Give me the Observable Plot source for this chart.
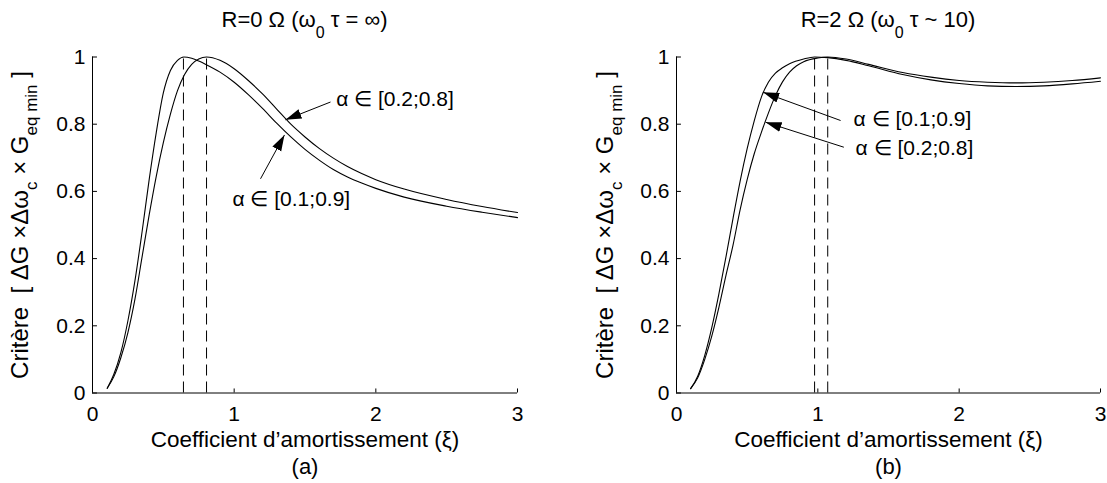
<!DOCTYPE html>
<html lang="fr">
<head>
<meta charset="utf-8">
<title>Critère en fonction du coefficient d'amortissement</title>
<script src="https://cdn.jsdelivr.net/npm/d3@7"></script>
<script src="https://cdn.jsdelivr.net/npm/@observablehq/plot@0.6"></script>
<style>
  html, body { margin: 0; padding: 0; background: #fff; }
  body { font-family: "Liberation Sans", Arial, Helvetica, sans-serif; color: #000; }
  #figure { position: relative; width: 1107px; height: 483px; overflow: hidden; background: #fff; }
  .panel { position: absolute; top: 0; height: 483px; }
  .panel-title { position: absolute; top: 0; height: 45px; box-sizing: border-box; padding-top: 9px;
                 font-size: 22px; line-height: 22px; white-space: pre; text-align: center; }
  .panel-title .sub { font-size: 16px; position: relative; top: 11px; }
  .panel svg { position: absolute; top: 45px; left: 0; }
</style>
</head>
<body>
<div id="figure"></div>
<script>
const FONT = '"Liberation Sans", Arial, Helvetica, sans-serif';

// Shared axes
const xTicks = [0, 1, 2, 3];
const yTicks = [0, 0.2, 0.4, 0.6, 0.8, 1];
const xLabel = "Coefficient d’amortissement (ξ)";

// (a) R = 0 Ω — α ∈ [0.1;0.9]
const xiA1 = [0.104, 0.15, 0.2, 0.25, 0.3, 0.35, 0.4, 0.45, 0.5, 0.55, 0.6, 0.645, 0.7, 0.75, 0.8, 0.9, 1.0, 1.1, 1.2, 1.3, 1.4, 1.5, 1.6, 1.7, 1.8, 1.9, 2.0, 2.2, 2.5, 2.75, 3.0];
const critA1 = [0.014, 0.055, 0.12, 0.215, 0.335, 0.48, 0.635, 0.775, 0.893, 0.96, 0.99, 1.0, 0.996, 0.988, 0.978, 0.955, 0.925, 0.888, 0.847, 0.803, 0.762, 0.725, 0.693, 0.665, 0.643, 0.625, 0.609, 0.583, 0.556, 0.538, 0.522];
// (a) R = 0 Ω — α ∈ [0.2;0.8]
const xiA2 = [0.104, 0.15, 0.2, 0.25, 0.3, 0.35, 0.4, 0.45, 0.5, 0.55, 0.6, 0.65, 0.7, 0.75, 0.805, 0.9, 1.0, 1.1, 1.2, 1.3, 1.4, 1.5, 1.6, 1.7, 1.8, 1.9, 2.0, 2.2, 2.5, 2.75, 3.0];
const critA2 = [0.014, 0.048, 0.105, 0.18, 0.28, 0.405, 0.53, 0.645, 0.745, 0.83, 0.9, 0.948, 0.978, 0.994, 1.0, 0.99, 0.965, 0.93, 0.89, 0.845, 0.8, 0.762, 0.728, 0.699, 0.674, 0.653, 0.635, 0.607, 0.576, 0.555, 0.537];
const peaksA = [0.642, 0.805];

// (b) R = 2 Ω — α ∈ [0.1;0.9]
const xiB1 = [0.1, 0.15, 0.2, 0.25, 0.3, 0.35, 0.4, 0.45, 0.5, 0.55, 0.6, 0.65, 0.7, 0.75, 0.8, 0.9, 0.977, 1.07, 1.2, 1.36, 1.6, 1.8, 2.0, 2.2, 2.4, 2.6, 2.8, 3.0];
const critB1 = [0.013, 0.05, 0.112, 0.195, 0.295, 0.405, 0.52, 0.63, 0.727, 0.81, 0.88, 0.925, 0.952, 0.968, 0.98, 0.994, 1.0, 0.998, 0.99, 0.974, 0.948, 0.932, 0.921, 0.914, 0.912, 0.914, 0.92, 0.928];
// (b) R = 2 Ω — α ∈ [0.2;0.8]
const xiB2 = [0.1, 0.15, 0.2, 0.25, 0.3, 0.35, 0.4, 0.45, 0.5, 0.55, 0.6, 0.65, 0.7, 0.75, 0.8, 0.85, 0.9, 1.0, 1.07, 1.2, 1.36, 1.6, 1.8, 2.0, 2.2, 2.4, 2.6, 2.8, 3.0];
const critB2 = [0.013, 0.045, 0.1, 0.17, 0.255, 0.35, 0.44, 0.545, 0.635, 0.712, 0.775, 0.833, 0.885, 0.926, 0.955, 0.974, 0.986, 0.997, 1.0, 0.994, 0.978, 0.954, 0.94, 0.93, 0.925, 0.923, 0.925, 0.93, 0.938];
const peaksB = [0.977, 1.07];

// Annotations (data coordinates)
const noteTextA = ["α ∈ [0.2;0.8]", "α ∈ [0.1;0.9]"];
const noteXA = [1.72, 0.988];
const noteYA = [0.874, 0.577];
const arrowX1A = [1.68, 1.186];
const arrowY1A = [0.866, 0.6375];
const arrowX2A = [1.362, 1.355];
const arrowY2A = [0.813, 0.768];

const noteTextB = ["α ∈ [0.1;0.9]", "α ∈ [0.2;0.8]"];
const noteXB = [1.253, 1.267];
const noteYB = [0.814, 0.728];
const arrowX1B = [1.161, 1.184];
const arrowY1B = [0.811, 0.7315];
const arrowX2B = [0.613, 0.63];
const arrowY2B = [0.895, 0.806];

function drawPanel(cfg) {
  const panel = d3.select("#figure").append("div")
    .attr("class", "panel")
    .style("left", cfg.left + "px")
    .style("width", cfg.width + "px");

  const center = (cfg.marginLeft + cfg.width - cfg.marginRight) / 2;
  panel.append("div")
    .attr("class", "panel-title")
    .style("left", (center - 200) + "px")
    .style("width", "400px")
    .html(cfg.title);

  const ann = d3.range(cfg.noteText.length);

  const plot = Plot.plot({
    width: cfg.width,
    height: 438,
    marginTop: 11.5,
    marginBottom: 90.5,
    marginLeft: cfg.marginLeft,
    marginRight: cfg.marginRight,
    style: { fontFamily: FONT, fontSize: "21px", color: "#000", background: "transparent", overflow: "visible" },
    x: { domain: [0, 3], ticks: xTicks, tickSize: 0, tickPadding: 13, tickFormat: d => `${d}`, label: null },
    y: { domain: [0, 1], ticks: yTicks, tickSize: 0, tickPadding: 7, tickFormat: d => `${d}`, label: null },
    marks: [
      // axis lines and inward ticks
      Plot.ruleY([0], { x1: 0, x2: 3, stroke: "#000" }),
      Plot.ruleX([0], { y1: 0, y2: 1, stroke: "#000" }),
      Plot.ruleX(xTicks, { y1: 0, y2: 0.012, stroke: "#000" }),
      Plot.ruleY(yTicks, { x1: 0, x2: 0.035, stroke: "#000" }),
      // optimum damping markers
      Plot.ruleX(cfg.peaks, { y1: 0, y2: 1, stroke: "#000", strokeWidth: 1, strokeDasharray: "11,6" }),
      // criterion curves
      Plot.line(cfg.c1, { x: cfg.xi1, y: cfg.c1, curve: "monotone-x", stroke: "#000", strokeWidth: 1.1 }),
      Plot.line(cfg.c2, { x: cfg.xi2, y: cfg.c2, curve: "monotone-x", stroke: "#000", strokeWidth: 1.1 }),
      // annotation arrows and labels
      Plot.link(ann, { x1: cfg.ax1, y1: cfg.ay1, x2: cfg.ax2, y2: cfg.ay2, stroke: "#000", strokeWidth: 1 }),
      Plot.text(ann, { x: cfg.noteX, y: cfg.noteY, text: cfg.noteText, textAnchor: "start", lineAnchor: "middle", fontSize: 21, fill: "#000" }),
      // axis title and panel caption
      Plot.text([xLabel], { frameAnchor: "bottom", dy: 54, lineAnchor: "bottom", fontSize: 22.5, fill: "#000" }),
      Plot.text([cfg.caption], { frameAnchor: "bottom", dy: 81, lineAnchor: "bottom", fontSize: 22, fill: "#000" })
    ]
  });
  panel.node().appendChild(plot);

  const svg = d3.select(plot);
  const id = "head-" + cfg.key;
  svg.append("defs").append("marker")
    .attr("id", id)
    .attr("viewBox", "0 -6 16 12")
    .attr("refX", 16).attr("refY", 0)
    .attr("markerUnits", "userSpaceOnUse")
    .attr("markerWidth", 16).attr("markerHeight", 12)
    .attr("orient", "auto")
    .append("path")
    .attr("d", "M0,-5L16,0L0,5Z")
    .attr("fill", "#000");
  svg.selectAll('g[aria-label="link"] path').attr("marker-end", `url(#${id})`);

  // rotated y-axis title with subscripts
  const t = svg.append("text")
    .attr("transform", `translate(${cfg.yLabelX},180) rotate(-90)`)
    .attr("text-anchor", "middle")
    .attr("font-family", FONT)
    .attr("font-size", 24)
    .attr("fill", "#000")
    .style("white-space", "pre");
  t.append("tspan").text("Critère  [ ΔG ×Δω");
  t.append("tspan").attr("font-size", 17).attr("dy", 9).text("c");
  t.append("tspan").attr("dy", -9).text(" × G");
  t.append("tspan").attr("font-size", 17).attr("dy", 9).text("eq min");
  t.append("tspan").attr("dy", -9).text(" ]");
}

drawPanel({
  key: "a", left: 0, width: 553, marginLeft: 92, marginRight: 36, yLabelX: 28,
  title: 'R=0 Ω (ω<span class="sub">0</span> τ = ∞)', caption: "(a)",
  xi1: xiA1, c1: critA1, xi2: xiA2, c2: critA2, peaks: peaksA,
  noteText: noteTextA, noteX: noteXA, noteY: noteYA,
  ax1: arrowX1A, ay1: arrowY1A, ax2: arrowX2A, ay2: arrowY2A
});

drawPanel({
  key: "b", left: 553, width: 554, marginLeft: 123, marginRight: 7, yLabelX: 60,
  title: 'R=2 Ω (ω<span class="sub">0</span> τ ~ 10)', caption: "(b)",
  xi1: xiB1, c1: critB1, xi2: xiB2, c2: critB2, peaks: peaksB,
  noteText: noteTextB, noteX: noteXB, noteY: noteYB,
  ax1: arrowX1B, ay1: arrowY1B, ax2: arrowX2B, ay2: arrowY2B
});
</script>
</body>
</html>
